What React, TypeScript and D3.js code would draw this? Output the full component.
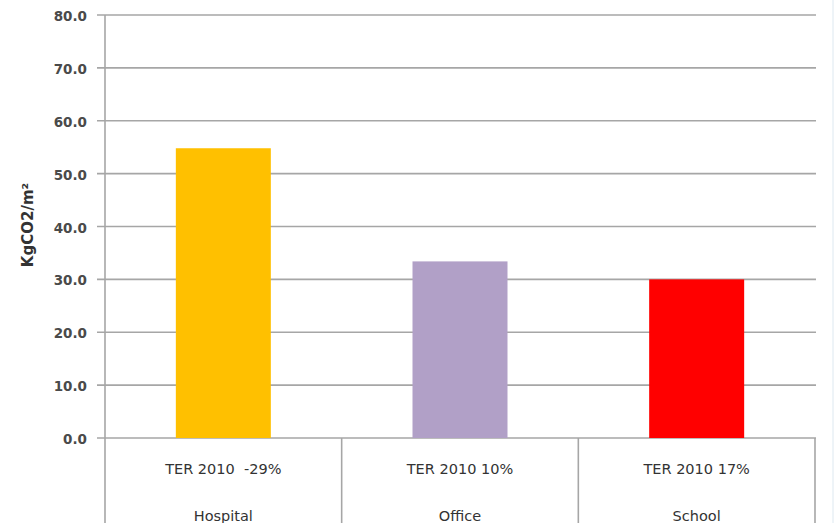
import React from "react";
import * as d3 from "d3";

const categories = ["Hospital", "Office", "School"];
const terLabels = ["TER 2010 \u00a0-29%", "TER 2010 10%", "TER 2010 17%"];
const values = [54.8, 33.4, 30.0];
const colors = ["#FFC000", "#B1A0C7", "#FF0000"];
const yTicks = [0, 10, 20, 30, 40, 50, 60, 70, 80];

export default function App() {
  const W = 834, H = 523;
  const left = 105, right = 815, top = 15, bottom = 438;
  const x = d3.scaleBand<string>().domain(categories).range([left, right]).paddingInner(0).paddingOuter(0);
  const y = d3.scaleLinear().domain([0, 80]).range([bottom, top]);
  const barW = 95;
  const font = "'DejaVu Sans', Verdana, sans-serif";
  return (
    <svg width={W} height={H} style={{ position: "absolute", left: 0, top: 0, background: "#fff" }}>
      <rect x={0} y={0} width={W} height={H} fill="#fff" />
      {yTicks.map((t) => (
        <g key={t}>
          <line x1={97} x2={816} y1={y(t)} y2={y(t)} stroke="#a6a6a6" strokeWidth={1.6} />
          <text x={87} y={y(t)} dy="0.45em" textAnchor="end" fontFamily={font} fontSize={13.5} fontWeight="bold" fill="#4a4a4a">
            {t.toFixed(1)}
          </text>
        </g>
      ))}
      {categories.map((c, i) => {
        const cx = (x(c) as number) + x.bandwidth() / 2;
        return (
          <g key={c}>
            <rect x={cx - barW / 2} y={y(values[i])} width={barW} height={y(0) - y(values[i])} fill={colors[i]} />
            <text x={cx} y={474} textAnchor="middle" fontFamily={font} fontSize={14.5} fill="#333">
              {terLabels[i]}
            </text>
            <text x={cx} y={521} textAnchor="middle" fontFamily={font} fontSize={14.5} fill="#333">
              {c}
            </text>
          </g>
        );
      })}
      {[...categories.map((c) => x(c) as number), right].map((bx, i) => (
        <line key={i} x1={bx} x2={bx} y1={i === 0 ? top : bottom} y2={H} stroke="#a6a6a6" strokeWidth={1.6} />
      ))}
      <line x1={833} x2={833} y1={0} y2={H} stroke="#dde8f0" strokeWidth={1} />
      <text
        transform={`translate(33, 225) rotate(-90)`}
        textAnchor="middle"
        fontFamily={font}
        fontSize={15}
        fontWeight="bold"
        fill="#333"
      >
        KgCO2/m²
      </text>
    </svg>
  );
}
